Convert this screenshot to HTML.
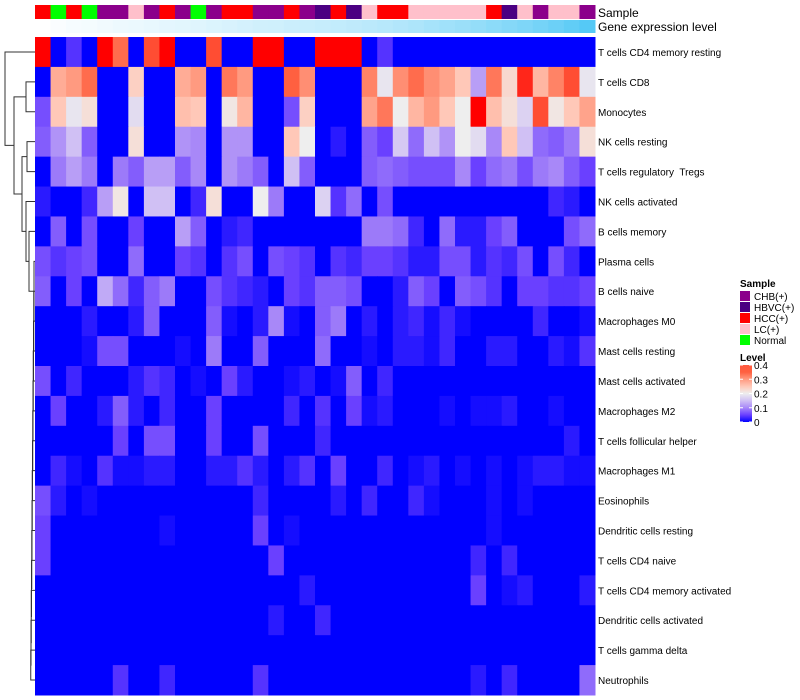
<!DOCTYPE html>
<html><head><meta charset="utf-8"><style>
body{margin:0;background:#fff;}
svg{display:block;font-family:"Liberation Sans",sans-serif;}
text{white-space:pre;}
</style></head><body>
<svg id="chart" width="800" height="700" viewBox="0 0 800 700" xmlns="http://www.w3.org/2000/svg">
<g id="dendro"></g>
<g id="anno"></g>
<g id="heat"></g>
<g id="rowlabels"></g>
<text x="598" y="17" font-size="12">Sample</text>
<text x="598" y="31" font-size="12">Gene expression level</text>
<g>
<text x="740" y="287" font-size="10" font-weight="bold">Sample</text>
<g id="sampleLegend"></g>
</g>
<g>
<text x="740" y="361" font-size="10" font-weight="bold">Level</text>
<defs><linearGradient id="lg" x1="0" y1="1" x2="0" y2="0">
<stop offset="0" stop-color="#0000ff"/><stop offset="0.125" stop-color="#6a40ff"/><stop offset="0.25" stop-color="#a888f8"/><stop offset="0.375" stop-color="#d0c0f4"/><stop offset="0.5" stop-color="#eeeeee"/><stop offset="0.625" stop-color="#ffc8b8"/><stop offset="0.75" stop-color="#ff9a80"/><stop offset="0.875" stop-color="#ff6040"/><stop offset="1" stop-color="#ff5a40"/>
</linearGradient></defs>
<rect x="740" y="365" width="12" height="57" fill="url(#lg)"/>
<g id="levelTicks"></g>
</g>
</svg>
<script>
const rowNames=["T cells CD4 memory resting","T cells CD8","Monocytes","NK cells resting","T cells regulatory  Tregs","NK cells activated","B cells memory","Plasma cells","B cells naive","Macrophages M0","Mast cells resting","Mast cells activated","Macrophages M2","T cells follicular helper","Macrophages M1","Eosinophils","Dendritic cells resting","T cells CD4 naive","T cells CD4 memory activated","Dendritic cells activated","T cells gamma delta","Neutrophils"];
const sampleGroups=["HCC","Normal","HCC","Normal","CHB","CHB","LC","CHB","HCC","CHB","Normal","CHB","HCC","HCC","CHB","CHB","HCC","CHB","HBVC","HCC","HBVC","LC","HCC","HCC","LC","LC","LC","LC","LC","HCC","HBVC","LC","CHB","LC","LC","CHB"];
const geneLevel=[0,0.03,0.05,0.06,0.08,0.1,0.11,0.13,0.15,0.16,0.18,0.2,0.22,0.24,0.26,0.27,0.29,0.3,0.32,0.34,0.36,0.38,0.4,0.43,0.46,0.5,0.53,0.56,0.6,0.64,0.68,0.72,0.77,0.82,0.88,0.95];
// values in hundredths (level*100)
const levels=[
[40,0,4,0,40,34,0,36,40,0,0,36,0,0,40,40,0,0,40,40,40,0,4,0,0,0,0,0,0,0,0,0,0,0,0,0],
[0,28,30,34,0,0,24,0,0,28,30,0,33,30,0,0,35,31,0,0,0,32,19,31,34,31,29,25,12,33,23,38,27,32,36,19],
[6,25,19,22,0,0,18,0,0,26,25,0,21,27,0,0,6,24,0,0,0,29,33,20,27,30,25,20,40,26,22,17,36,21,25,29],
[7,11,15,7,0,0,22,0,0,11,10,0,11,11,0,0,25,20,0,2,0,7,5,16,8,15,11,20,18,10,25,15,8,7,9,22],
[0,9,12,9,0,9,7,12,12,7,10,0,11,9,7,0,15,7,0,0,0,7,8,7,6,6,6,10,5,8,9,6,9,10,7,5],
[2,0,0,3,12,21,0,15,15,0,3,22,0,0,20,9,0,0,17,4,8,0,6,0,0,0,0,0,0,0,0,0,0,3,2,0],
[0,7,0,6,0,0,5,0,0,12,7,0,2,3,0,0,0,0,0,0,0,9,9,8,3,0,8,2,2,5,7,0,0,0,6,8],
[6,4,5,6,0,0,8,0,0,5,4,0,4,6,0,6,5,4,0,4,3,5,5,4,2,2,6,6,2,4,3,6,0,6,3,0],
[7,0,5,0,13,8,3,7,9,0,0,6,4,3,2,0,5,4,7,7,6,0,0,2,7,5,0,7,6,4,0,5,5,4,4,5],
[0,0,0,2,0,0,2,7,0,0,0,7,1,0,2,10,1,0,7,9,0,2,0,2,3,1,3,1,0,0,0,0,3,0,0,1],
[0,0,0,1,6,6,0,0,0,1,0,9,0,0,7,0,0,0,8,0,0,1,0,2,2,1,3,0,0,2,2,0,0,2,1,4],
[6,0,3,0,0,0,2,4,3,0,1,0,5,2,0,0,1,2,0,1,7,0,3,0,0,0,0,0,0,0,0,0,0,0,0,0],
[0,5,0,0,2,7,2,0,3,0,0,5,0,0,0,0,3,0,4,0,5,1,2,0,0,0,1,0,1,1,2,0,0,1,0,0],
[0,0,0,0,0,5,0,6,6,0,0,5,0,0,6,0,0,0,3,0,0,0,0,0,0,0,0,0,0,0,0,0,0,0,2,0],
[0,3,1,0,4,1,1,2,2,0,0,2,2,4,2,0,2,4,0,5,0,0,3,0,1,2,0,1,0,1,0,1,2,2,1,1],
[6,2,0,1,0,0,0,0,0,0,0,0,0,0,3,0,0,0,0,2,0,3,0,0,3,1,0,0,0,1,0,1,0,0,0,0],
[5,0,0,0,0,0,0,0,1,0,0,0,0,0,5,0,1,0,0,0,0,0,0,0,0,0,0,0,0,1,0,0,0,0,0,0],
[5,0,0,0,0,0,0,0,0,0,0,0,0,0,0,5,0,0,0,0,0,0,0,0,0,0,0,0,3,0,3,0,0,0,0,0],
[0,0,0,0,0,0,0,0,0,0,0,0,0,0,0,0,0,2,0,0,0,0,0,0,0,0,0,0,5,0,1,2,0,0,0,2],
[0,0,0,0,0,0,0,0,0,0,0,0,0,0,0,2,0,0,3,0,0,0,0,0,0,0,0,0,0,0,0,0,0,0,0,0],
[0,0,0,0,0,0,0,0,0,0,0,0,0,0,0,0,0,0,0,0,0,0,0,0,0,0,0,0,0,0,0,0,0,0,0,0],
[0,0,0,0,0,4,0,0,3,0,0,0,0,0,4,0,0,0,0,0,0,0,0,0,0,0,0,0,2,0,3,0,0,0,0,8]
];
const legendGroups=["CHB","HBVC","HCC","LC","Normal"];
const legendLabels=["CHB(+)","HBVC(+)","HCC(+)","LC(+)","Normal"];
const levelTicks=[0,0.1,0.2,0.3,0.4];

const groupColor={CHB:"#8b008b",HBVC:"#4b0082",HCC:"#ff0000",LC:"#ffc0cb",Normal:"#00ff00"};
const NS="http://www.w3.org/2000/svg";
const X0=35,X1=595,Y0=37,Y1=695;
const nC=sampleGroups.length,nR=rowNames.length;
const cw=(X1-X0)/nC,rh=(Y1-Y0)/nR;
const xPos=i=>X0+i*cw, yPos=r=>Y0+r*rh;
const levelY=v=>422-v/0.4*57;
const stops=[[0,[0,0,255]],[0.05,[106,64,255]],[0.1,[168,136,248]],[0.15,[208,192,244]],[0.2,[238,238,238]],[0.25,[255,200,184]],[0.3,[255,154,128]],[0.35,[255,96,64]],[0.4,[255,0,0]]];
function heatColor(v){
  v=Math.max(0,Math.min(0.4,v));
  for(let i=1;i<stops.length;i++){
    if(v<=stops[i][0]){const [a,ca]=stops[i-1],[b,cb]=stops[i];const t=(v-a)/(b-a);
      return "rgb("+ca.map((c,k)=>Math.round(c+(cb[k]-c)*t)).join(",")+")";}
  }
  return "rgb(255,0,0)";
}
function geneColor(t){const a=[255,255,255],b=[76,198,245];return "rgb("+a.map((c,k)=>Math.round(c+(b[k]-c)*t)).join(",")+")";}
function mk(tag,attrs,parent){const e=document.createElementNS(NS,tag);for(const k in attrs)e.setAttribute(k,attrs[k]);parent.appendChild(e);return e;}

const anno=document.getElementById("anno");
sampleGroups.forEach((g,i)=>{
  const r=mk("rect",{x:xPos(i),y:5,width:cw+0.5,height:14,fill:groupColor[g]},anno);
  
  
  const q=mk("rect",{x:xPos(i),y:20,width:cw+0.5,height:13,fill:geneColor(geneLevel[i])},anno);
  
  
});
const heat=document.getElementById("heat");
levels.forEach((row,r)=>row.forEach((v,c)=>{
  const e=mk("rect",{x:xPos(c),y:yPos(r),width:cw+0.5,height:rh+0.5,fill:heatColor(v/100)},heat);
  
  
}));
const rl=document.getElementById("rowlabels");
rowNames.forEach((n,r)=>{
  const t=mk("text",{x:598,y:yPos(r)+rh/2+4,"font-size":10},rl);t.textContent=n;
  
  
});
const sl=document.getElementById("sampleLegend");
legendGroups.forEach((g,i)=>{
  const b=mk("rect",{x:740,y:291+i*11,width:10,height:10,fill:groupColor[g]},sl);
  
  
  const t=mk("text",{x:754,y:300+i*11,"font-size":10},sl);t.textContent=legendLabels[i];
  
  
});
const lt=document.getElementById("levelTicks");
levelTicks.forEach(v=>{
  const y=levelY(v);
  mk("line",{x1:740,x2:743,y1:y,y2:y,stroke:"#fff"},lt);
  mk("line",{x1:749,x2:752,y1:y,y2:y,stroke:"#fff"},lt);
  const t=mk("text",{x:754,y:y+4,"font-size":10},lt);t.textContent=String(v);
  
  
});
// dendrogram
const dg=document.getElementById("dendro");
function leaf(i){return {y:yPos(i)+rh/2,x:X0};}
function join(a,b,x){
  mk("path",{d:`M${a.x},${a.y}H${x}V${b.y}H${b.x}`,fill:"none",stroke:"#333","stroke-width":1},dg);
  return {x:x,y:(a.y+b.y)/2};
}
let low=leaf(21);
for(let i=20;i>=7;i--){low=join(leaf(i),low,34-(i-7)*0.25);}
let ne=join(leaf(6),low,29);
let nd=join(leaf(5),ne,26);
let nb=join(leaf(3),leaf(4),27);
let nc=join(nb,nd,22);
let na=join(leaf(1),leaf(2),26);
let nt=join(na,nc,14);
join(leaf(0),nt,5);
</script>
</body></html>
